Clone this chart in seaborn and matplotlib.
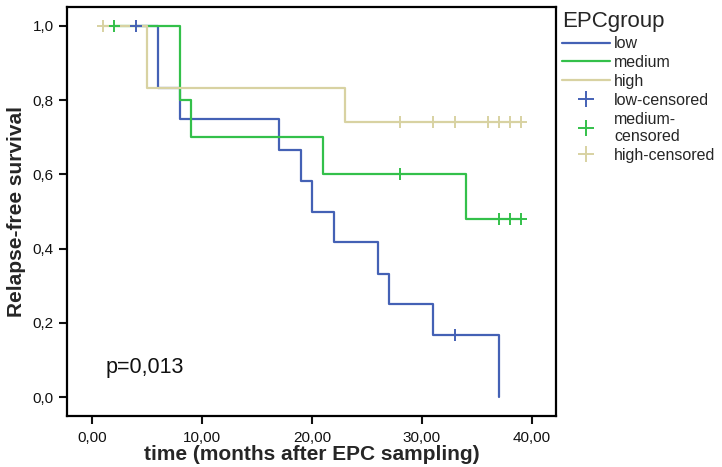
import numpy as np
import pandas as pd
import matplotlib
matplotlib.use("Agg")
import matplotlib.pyplot as plt
from matplotlib.lines import Line2D
import seaborn as sns

# Kaplan-Meier steps
groups = ["low", "medium", "high"]
colours = ["#4461b5", "#33c04a", "#d8d2a2"]

low_start = 4
low_event_t = [6, 8, 17, 19, 20, 22, 26, 27, 31, 37]
low_event_s = [0.833, 0.75, 0.667, 0.583, 0.5, 0.417, 0.333, 0.25, 0.167, 0.0]
low_cens_t = [4, 33]

medium_start = 2
medium_event_t = [8, 9, 21, 34]
medium_event_s = [0.8, 0.7, 0.6, 0.48]
medium_cens_t = [2, 28, 37, 38, 39]

high_start = 1
high_event_t = [5, 23]
high_event_s = [0.833, 0.741]
high_cens_t = [1, 28, 31, 33, 36, 37, 38, 39]

x_ticks = [0, 10, 20, 30, 40]
x_ticklabels = ["0,00", "10,00", "20,00", "30,00", "40,00"]
y_ticks = [0.0, 0.2, 0.4, 0.6, 0.8, 1.0]
y_ticklabels = ["0,0", "0,2", "0,4", "0,6", "0,8", "1,0"]


def surv_at(t, ev_t, ev_s):
    # survival value of the step curve at time t
    i = np.searchsorted(ev_t, t, side="right")
    return 1.0 if i == 0 else ev_s[i - 1]


curves = []
cens = []
for g, st, et, es, ct in [("low", low_start, low_event_t, low_event_s, low_cens_t),
                          ("medium", medium_start, medium_event_t, medium_event_s, medium_cens_t),
                          ("high", high_start, high_event_t, high_event_s, high_cens_t)]:
    tt = [st] + list(et)
    ss = [1.0] + list(es)
    if max(ct) > tt[-1]:
        tt.append(max(ct))
        ss.append(ss[-1])
    curves.append(pd.DataFrame({"time": tt, "surv": ss, "group": g}))
    cens.append(pd.DataFrame({"time": ct, "surv": [surv_at(c, et, es) for c in ct], "group": g}))
curves = pd.concat(curves, ignore_index=True)
cens = pd.concat(cens, ignore_index=True)

sns.set_style("white")
plt.rcParams["font.family"] = ["Liberation Sans", "DejaVu Sans"]

fig = plt.figure(figsize=(7.22, 4.67), dpi=100)
ax = fig.add_axes([0.0928, 0.109, 0.677, 0.876])

pal = dict(zip(groups, colours))
for g in groups:
    sub = curves[curves["group"] == g]
    sns.lineplot(data=sub, x="time", y="surv", color=pal[g], drawstyle="steps-post",
                 estimator=None, sort=False, lw=1.6, ax=ax, legend=False)
for g in groups:
    sub = cens[cens["group"] == g]
    ax.plot(sub["time"], sub["surv"], ls="none", marker="+", ms=9, mew=1.4, color=pal[g])

ax.set_xlim(-2.3, 42.2)
ax.set_ylim(-0.051, 1.051)
ax.set_xticks(x_ticks)
ax.set_xticklabels(x_ticklabels)
ax.set_yticks(y_ticks)
ax.set_yticklabels(y_ticklabels)
ax.tick_params(axis="both", direction="out", length=6, width=1.5, colors="#111111",
               labelsize=11, bottom=True, left=True)
ax.tick_params(axis="x", pad=5)
for s in ax.spines.values():
    s.set_linewidth(1.6)
    s.set_color("black")

ax.set_xlabel("time (months after EPC sampling)", fontsize=15, fontweight="bold", labelpad=0)
ax.set_ylabel("Relapse-free survival", fontsize=15, fontweight="bold", labelpad=5)
ax.text(1.2, 0.08, "p=0,013", fontsize=15.5, color="#111111", va="center", ha="left")

handles = [Line2D([], [], color=c, lw=1.6) for c in colours]
handles += [Line2D([], [], color=c, ls="none", marker="+", ms=12, mew=1.4) for c in colours]
labels = ["low", "medium", "high", "low-censored", "medium-\ncensored", "high-censored"]
leg = ax.legend(handles, labels, title="EPCgroup", loc="upper left", bbox_to_anchor=(1.0, 1.005),
                frameon=False, fontsize=11.5, title_fontsize=16, handlelength=3.0,
                handletextpad=0.25, labelspacing=0.24, borderaxespad=0.0)
leg._legend_box.align = "left"

fig.savefig("out.png", dpi=100)
